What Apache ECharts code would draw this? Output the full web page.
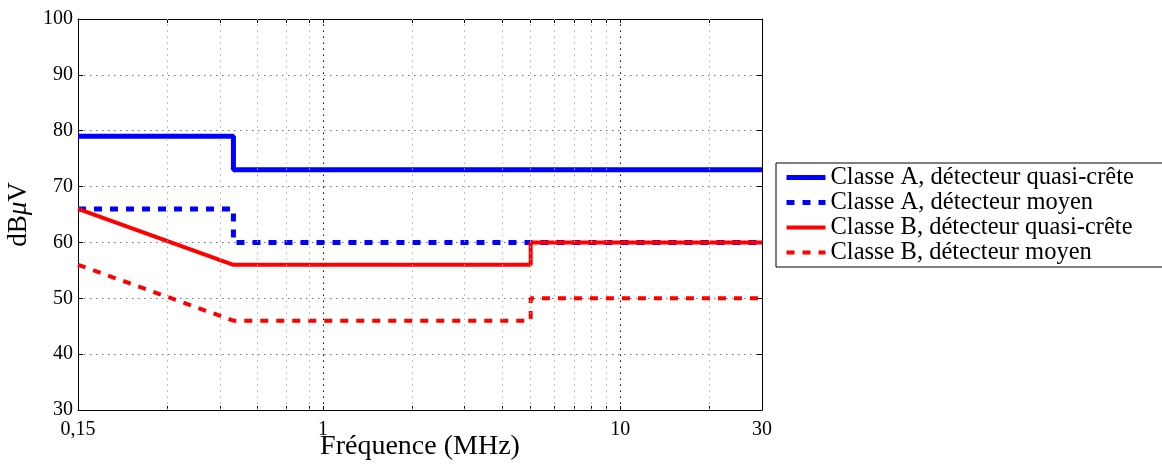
<!DOCTYPE html>
<html>
<head>
<meta charset="utf-8">
<script src="https://cdn.jsdelivr.net/npm/echarts@6/dist/echarts.min.js"></script>
<style>
  html, body { margin: 0; padding: 0; background: #fff; }
  #chart { width: 1162px; height: 464px; }
</style>
</head>
<body>
<div id="chart"></div>
<script>
// ---- data ----
const seriesNames = [
  'Classe A, détecteur quasi-crête',
  'Classe A, détecteur moyen',
  'Classe B, détecteur quasi-crête',
  'Classe B, détecteur moyen'
];
const freqA = [0.15, 0.5, 0.5, 30];
const classA_QP = [79, 79, 73, 73];
const classA_AV = [66, 66, 60, 60];
const freqB = [0.15, 0.5, 5, 5, 30];
const classB_QP = [66, 56, 56, 60, 60];
const classB_AV = [56, 46, 46, 50, 50];

const xTickValues = [0.15, 1, 10, 30];
const xTickLabels = ['0,15', '1', '10', '30'];
const xMinorGrid = [0.3, 0.45, 0.6, 0.75, 0.9, 2, 3, 4, 5, 6, 7, 8, 9, 20];
const xMajorGrid = [1, 10];
const xAllTicks = [0.15, 0.3, 0.45, 0.6, 0.75, 0.9, 1, 2, 3, 4, 5, 6, 7, 8, 9, 10, 20, 30];

const FONT = 'Liberation Serif';

function pairs(xs, ys) { return xs.map((x, i) => [x, ys[i]]); }

function xLabel(v) {
  for (let i = 0; i < xTickValues.length; i++) {
    if (Math.abs(v - xTickValues[i]) < 1e-6 * xTickValues[i]) return xTickLabels[i];
  }
  return '';
}

const chart = echarts.init(document.getElementById('chart'), null, { renderer: 'canvas' });

const gridLines = []
  .concat(xMinorGrid.map(v => ({ xAxis: v, lineStyle: { color: '#b0b0b0', type: [1.5, 4.5], width: 1 } })))
  .concat(xMajorGrid.map(v => ({ xAxis: v, lineStyle: { color: '#000', type: [1.5, 4.5], width: 1 } })));

const noSymbol = { color: 'rgba(0,0,0,0)', borderColor: 'rgba(0,0,0,0)', borderWidth: 0 };

const option = {
  animation: false,
  backgroundColor: '#fff',
  grid: { left: 78, right: 400, top: 19, bottom: 54, containLabel: false, outerBoundsMode: 'none' },
  xAxis: [
    {
      type: 'log', logBase: 10, min: 0.15, max: 30, position: 'bottom',
      name: 'Fréquence (MHz)', nameLocation: 'middle', nameGap: 23, nameMoveOverlap: false,
      nameTextStyle: { fontFamily: FONT, fontSize: 28, color: '#000' },
      axisLine: { show: true, lineStyle: { color: '#000', width: 1 } },
      axisTick: { show: true, inside: true, length: 4, customValues: xAllTicks, lineStyle: { color: '#000' } },
      axisLabel: { show: true, customValues: xTickValues, formatter: xLabel, margin: 10,
                   fontFamily: FONT, fontSize: 20, color: '#000' },
      splitLine: { show: false }, minorTick: { show: false }
    },
    {
      type: 'log', logBase: 10, min: 0.15, max: 30, position: 'top',
      axisLine: { show: true, lineStyle: { color: '#000', width: 1 } },
      axisTick: { show: true, inside: true, length: 4, customValues: xAllTicks, lineStyle: { color: '#000' } },
      axisLabel: { show: false }, splitLine: { show: false }
    }
  ],
  yAxis: [
    {
      type: 'value', min: 30, max: 100, interval: 10, position: 'left',
      name: 'dB{i|μ}V', nameLocation: 'middle', nameGap: 46, nameRotate: 90, nameMoveOverlap: false,
      nameTextStyle: { fontFamily: FONT, fontSize: 27, color: '#000',
        rich: { i: { fontFamily: FONT, fontSize: 27, fontStyle: 'italic', color: '#000' } } },
      axisLine: { show: true, lineStyle: { color: '#000', width: 1 } },
      axisTick: { show: true, inside: true, length: 5, lineStyle: { color: '#000' } },
      axisLabel: { margin: 5, fontFamily: FONT, fontSize: 20, color: '#000' },
      splitLine: { show: true, lineStyle: { color: '#707070', type: [1.5, 4.5], width: 1 } }
    },
    {
      type: 'value', min: 30, max: 100, interval: 10, position: 'right',
      axisLine: { show: true, lineStyle: { color: '#000', width: 1 } },
      axisTick: { show: true, inside: true, length: 5, lineStyle: { color: '#000' } },
      axisLabel: { show: false }, splitLine: { show: false }
    }
  ],
  legend: {
    orient: 'vertical', left: 776, top: 163,
    itemWidth: 39, itemHeight: 14, itemGap: 0,
    padding: [2, 30, 2, 8],
    borderColor: '#000', borderWidth: 1, backgroundColor: '#fff',
    itemStyle: noSymbol,
    textStyle: { fontFamily: FONT, fontSize: 24.5, lineHeight: 24.5, color: '#000' },
    data: [
      { name: seriesNames[0], itemStyle: noSymbol, lineStyle: { width: 5, type: 'solid', color: '#0000ff' } },
      { name: seriesNames[1], itemStyle: noSymbol, lineStyle: { width: 5, type: [8, 8], color: '#0000ff' } },
      { name: seriesNames[2], itemStyle: noSymbol, lineStyle: { width: 4, type: 'solid', color: '#ff0000' } },
      { name: seriesNames[3], itemStyle: noSymbol, lineStyle: { width: 4, type: [8, 8], color: '#ff0000' } }
    ]
  },
  series: [
    {
      name: '__grid', type: 'line', data: [], z: 1, silent: true,
      markLine: { silent: true, symbol: ['none', 'none'], label: { show: false }, animation: false, data: gridLines }
    },
    {
      name: seriesNames[0], type: 'line', data: pairs(freqA, classA_QP), symbol: 'none', z: 3,
      color: '#0000ff', lineStyle: { width: 5, color: '#0000ff', type: 'solid' }
    },
    {
      name: seriesNames[1], type: 'line', data: pairs(freqA, classA_AV), symbol: 'none', z: 3,
      color: '#0000ff', lineStyle: { width: 5, color: '#0000ff', type: [8, 8] }
    },
    {
      name: seriesNames[2], type: 'line', data: pairs(freqB, classB_QP), symbol: 'none', z: 3,
      color: '#ff0000', lineStyle: { width: 4, color: '#ff0000', type: 'solid' }
    },
    {
      name: seriesNames[3], type: 'line', data: pairs(freqB, classB_AV), symbol: 'none', z: 3,
      color: '#ff0000', lineStyle: { width: 4, color: '#ff0000', type: [8, 8] }
    }
  ]
};
chart.setOption(option);
</script>
</body>
</html>
